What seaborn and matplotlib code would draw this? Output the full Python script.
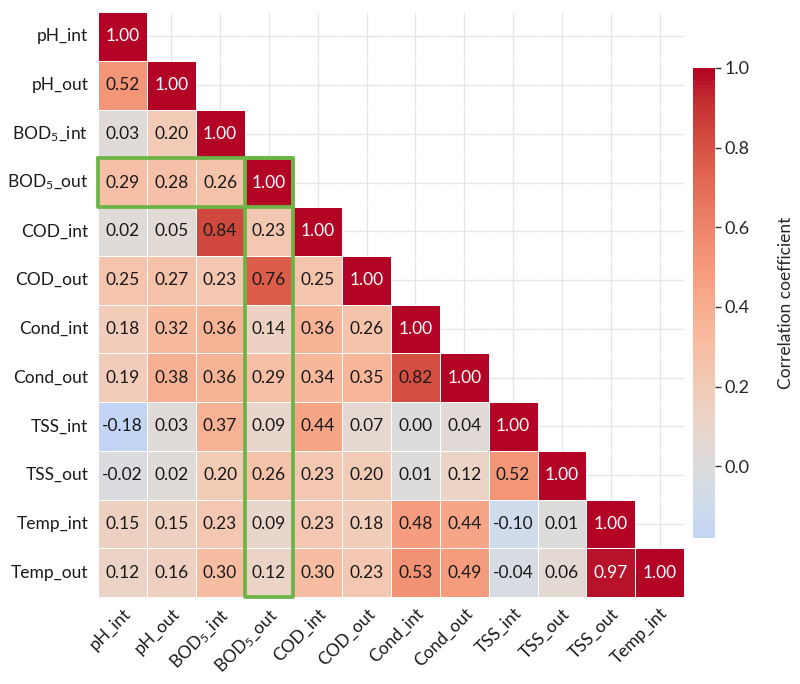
import numpy as np
import pandas as pd
import matplotlib
matplotlib.use("Agg")
import matplotlib.pyplot as plt
import seaborn as sns

row_labels = ["pH_int", "pH_out", "BOD$_5$_int", "BOD$_5$_out", "COD_int", "COD_out",
              "Cond_int", "Cond_out", "TSS_int", "TSS_out", "Temp_int", "Temp_out"]
col_labels = ["pH_int", "pH_out", "BOD$_5$_int", "BOD$_5$_out", "COD_int", "COD_out",
              "Cond_int", "Cond_out", "TSS_int", "TSS_out", "TSS_out", "Temp_int"]

r_pH_int = [1.00]
r_pH_out = [0.52, 1.00]
r_BOD_int = [0.03, 0.20, 1.00]
r_BOD_out = [0.29, 0.28, 0.26, 1.00]
r_COD_int = [0.02, 0.05, 0.84, 0.23, 1.00]
r_COD_out = [0.25, 0.27, 0.23, 0.76, 0.25, 1.00]
r_Cond_int = [0.18, 0.32, 0.36, 0.14, 0.36, 0.26, 1.00]
r_Cond_out = [0.19, 0.38, 0.36, 0.29, 0.34, 0.35, 0.82, 1.00]
r_TSS_int = [-0.18, 0.03, 0.37, 0.09, 0.44, 0.07, 0.00, 0.04, 1.00]
r_TSS_out = [-0.02, 0.02, 0.20, 0.26, 0.23, 0.20, 0.01, 0.12, 0.52, 1.00]
r_Temp_int = [0.15, 0.15, 0.23, 0.09, 0.23, 0.18, 0.48, 0.44, -0.10, 0.01, 1.00]
r_Temp_out = [0.12, 0.16, 0.30, 0.12, 0.30, 0.23, 0.53, 0.49, -0.04, 0.06, 0.97, 1.00]

rows = [r_pH_int, r_pH_out, r_BOD_int, r_BOD_out, r_COD_int, r_COD_out,
        r_Cond_int, r_Cond_out, r_TSS_int, r_TSS_out, r_Temp_int, r_Temp_out]

n = len(row_labels)
mat = np.full((n, n), np.nan)
for i, r in enumerate(rows):
    mat[i, :len(r)] = r
df = pd.DataFrame(mat, index=row_labels, columns=col_labels)
mask = np.isnan(mat)

sns.set_theme(style="whitegrid")
plt.rcParams["font.family"] = ["Lato", "DejaVu Sans"]
plt.rcParams["mathtext.fontset"] = "custom"
plt.rcParams["mathtext.rm"] = "Lato"
plt.rcParams["mathtext.it"] = "Lato"

fig = plt.figure(figsize=(8, 6.84), dpi=100)
W, H = 800, 684
ax = fig.add_axes([98 / W, 1 - 597 / H, 586 / W, 585 / H])
cax = fig.add_axes([693 / W, 1 - 538 / H, 22 / W, 470 / H])

sns.heatmap(df, mask=mask, cmap="coolwarm", center=0, annot=True, fmt=".2f",
            annot_kws={"fontsize": 12.5}, linewidths=0.5, linecolor="white",
            ax=ax, cbar_ax=cax, cbar_kws={"label": "Correlation coefficient"})

for t in ax.texts:
    v = float(t.get_text())
    t.set_color("white" if v >= 0.9 else "#1a1a1a")

ax.set_axisbelow(True)
ax.grid(True, color="#e6e6e6", linewidth=1.0)
for s in ax.spines.values():
    s.set_visible(False)
ax.tick_params(axis="both", length=0, labelsize=12.5, colors="#1a1a1a")
ax.tick_params(axis="y", pad=7)
ax.tick_params(axis="x", pad=6)
plt.setp(ax.get_xticklabels(), rotation=45, ha="right", rotation_mode="anchor")
plt.setp(ax.get_yticklabels(), rotation=0)
ax.set_xlabel("")
ax.set_ylabel("")

cax.tick_params(length=4, width=1, color="#333333", labelsize=13, pad=3)
cax.set_ylabel("Correlation coefficient", fontsize=12.5, labelpad=20)

green = "#6cb445"
ax.plot([0, 4, 4, 0, 0], [3, 3, 4, 4, 3], color=green, lw=2.7, clip_on=False,
        solid_joinstyle="round", solid_capstyle="round")
ax.plot([3, 4, 4, 3, 3], [3, 3, 12, 12, 3], color=green, lw=2.7, clip_on=False,
        solid_joinstyle="round", solid_capstyle="round")

fig.savefig("out.png", dpi=100)
